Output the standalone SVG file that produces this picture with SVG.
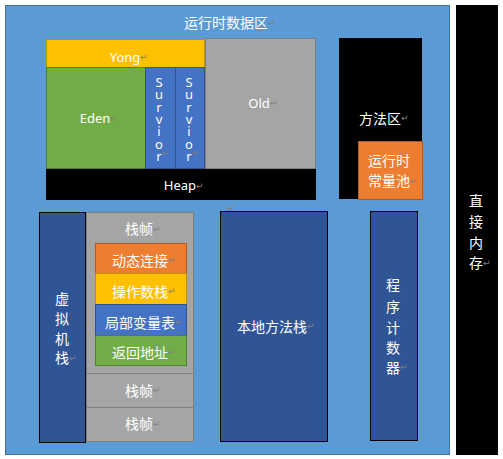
<svg xmlns="http://www.w3.org/2000/svg" width="503" height="459" viewBox="0 0 503 459">
<style>
  .t{font-family:"Noto Sans CJK SC","Noto Sans",sans-serif;font-size:14px;fill:#ffffff;text-anchor:middle;dominant-baseline:central}
  .s{font-family:"Noto Sans","Noto Sans CJK SC",sans-serif;font-size:13px;fill:#ffffff;text-anchor:middle;dominant-baseline:central}
  .v{font-family:"Noto Sans","Noto Sans CJK SC",sans-serif;font-size:13px;fill:#ffffff;writing-mode:vertical-rl;text-orientation:upright;letter-spacing:-5.7px}
  .pm{font-family:"DejaVu Sans",sans-serif;font-size:9px;fill:#7f7f7f;dominant-baseline:central}
</style>
<rect x="0" y="0" width="503" height="459" fill="#ffffff"/>
<g id="runtime-data-area">
  <rect x="5.5" y="5.5" width="444" height="449" fill="#5b9bd5" stroke="#41719c" stroke-width="1"/>
  <text class="t" x="226" y="22">运行时数据区</text>
  <text class="pm" x="268" y="23">↵</text>
  <text class="pm" x="227" y="208">↵</text>
</g>
<g id="direct-memory">
  <rect x="456" y="5" width="42" height="450" fill="#000000"/>
  <text class="t" x="476" y="200"><tspan x="476">直</tspan><tspan x="476" dy="21">接</tspan><tspan x="476" dy="21">内</tspan><tspan x="476" dy="20">存</tspan></text>
  <text class="pm" x="483" y="263">↵</text>
</g>
<g id="heap">
  <rect x="46" y="168" width="270" height="32" fill="#000000"/>
  <text class="s" x="180" y="185">Heap</text>
  <text class="pm" x="196" y="186">↵</text>
</g>
<g id="yong">
  <rect x="46.5" y="39.5" width="158" height="28" fill="#ffc000" stroke="#bf9000" stroke-width="1"/>
  <text class="s" x="125" y="57">Yong</text>
  <text class="pm" x="140" y="57">↵</text>
</g>
<g id="eden">
  <rect x="46.5" y="67.5" width="99" height="101" fill="#70ad47" stroke="#507e32" stroke-width="1"/>
  <text class="s" x="95" y="118">Eden</text>
  <text class="pm" x="110" y="118">↵</text>
</g>
<g id="survior1">
  <rect x="145.5" y="67.5" width="30" height="101" fill="#4472c4" stroke="#2f528f" stroke-width="1"/>
  <text class="v" x="159" y="73">Survior</text>
  <text class="pm" x="162" y="153">↵</text>
</g>
<g id="survior2">
  <rect x="175.5" y="67.5" width="29" height="101" fill="#4472c4" stroke="#2f528f" stroke-width="1"/>
  <text class="v" x="189" y="73">Survior</text>
  <text class="pm" x="192" y="153">↵</text>
</g>
<g id="old">
  <rect x="205.5" y="38.5" width="110" height="130" fill="#a5a5a5" stroke="#7f7f7f" stroke-width="1"/>
  <text class="s" x="259" y="103">Old</text>
  <text class="pm" x="270" y="103">↵</text>
</g>
<g id="method-area">
  <rect x="339" y="38" width="83" height="161" fill="#000000"/>
  <text class="t" x="380" y="118">方法区</text>
  <text class="pm" x="401" y="118">↵</text>
</g>
<g id="constant-pool">
  <rect x="358.5" y="141.5" width="64" height="58" fill="#ed7d31" stroke="#ae5a21" stroke-width="1"/>
  <text class="t" x="389" y="160"><tspan x="389">运行时</tspan><tspan x="389" dy="20">常量池</tspan></text>
  <text class="pm" x="410" y="181">↵</text>
</g>
<g id="vm-stack">
  <rect x="39.5" y="212.5" width="46" height="230" fill="#2f5597" stroke="#000000" stroke-width="1"/>
  <text class="t" x="62" y="298"><tspan x="62">虚</tspan><tspan x="62" dy="20">拟</tspan><tspan x="62" dy="20">机</tspan><tspan x="62" dy="19">栈</tspan></text>
  <text class="pm" x="69" y="358">↵</text>
</g>
<g id="frame1">
  <rect x="86.5" y="212.5" width="107" height="161" fill="#a5a5a5" stroke="#7f7f7f" stroke-width="1"/>
  <text class="t" x="139" y="228">栈帧</text>
  <text class="pm" x="153" y="229">↵</text>
</g>
<g id="dynamic-link">
  <rect x="95.5" y="243.5" width="91" height="30" fill="#ed7d31" stroke="#ae5a21" stroke-width="1"/>
  <text class="t" x="140" y="260">动态连接</text>
  <text class="pm" x="168" y="260">↵</text>
</g>
<g id="operand-stack">
  <rect x="95.5" y="273.5" width="91" height="31" fill="#ffc000" stroke="#bf9000" stroke-width="1"/>
  <text class="t" x="140" y="291">操作数栈</text>
  <text class="pm" x="168" y="291">↵</text>
</g>
<g id="local-vars">
  <rect x="95.5" y="304.5" width="91" height="31" fill="#4472c4" stroke="#2f528f" stroke-width="1"/>
  <text class="t" x="140" y="322">局部变量表</text>
  <text class="pm" x="175" y="322">↵</text>
</g>
<g id="return-addr">
  <rect x="95.5" y="335.5" width="91" height="30" fill="#70ad47" stroke="#507e32" stroke-width="1"/>
  <text class="t" x="140" y="352">返回地址</text>
  <text class="pm" x="168" y="352">↵</text>
</g>
<g id="frame2">
  <rect x="86.5" y="373.5" width="107" height="34" fill="#a5a5a5" stroke="#7f7f7f" stroke-width="1"/>
  <text class="t" x="139" y="390">栈帧</text>
  <text class="pm" x="153" y="390">↵</text>
</g>
<g id="frame3">
  <rect x="86.5" y="407.5" width="107" height="34" fill="#a5a5a5" stroke="#7f7f7f" stroke-width="1"/>
  <text class="t" x="139" y="423">栈帧</text>
  <text class="pm" x="153" y="424">↵</text>
</g>
<g id="native-stack">
  <rect x="220.5" y="211.5" width="107" height="230" fill="#2f5597" stroke="#000000" stroke-width="1"/>
  <text class="t" x="272" y="326">本地方法栈</text>
  <text class="pm" x="307" y="326">↵</text>
</g>
<g id="pc-register">
  <rect x="370.5" y="211.5" width="47" height="229" fill="#2f5597" stroke="#000000" stroke-width="1"/>
  <text class="t" x="393" y="284"><tspan x="393">程</tspan><tspan x="393" dy="22">序</tspan><tspan x="393" dy="21">计</tspan><tspan x="393" dy="20">数</tspan><tspan x="393" dy="20">器</tspan></text>
  <text class="pm" x="400" y="367">↵</text>
</g>
<g id="connectors"></g>
</svg>
